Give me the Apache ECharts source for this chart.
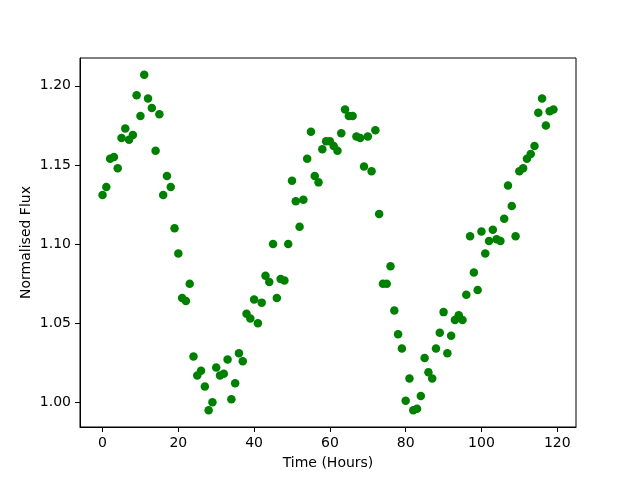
<!DOCTYPE html>
<html>
<head>
<meta charset="utf-8">
<script src="https://cdn.jsdelivr.net/npm/echarts@6/dist/echarts.min.js"></script>
<style>
  html, body { margin: 0; padding: 0; background: #fff; }
  #chart { width: 640px; height: 480px; }
</style>
</head>
<body>
<div id="chart"></div>
<script>
// observation time, one sample per hour
var hours = [
    0, 1, 2, 3, 4, 5, 6, 7, 8, 9, 10, 11, 12, 13, 14, 15, 16, 17, 18, 19,
    20, 21, 22, 23, 24, 25, 26, 27, 28, 29, 30, 31, 32, 33, 34, 35, 36, 37, 38, 39,
    40, 41, 42, 43, 44, 45, 46, 47, 48, 49, 50, 51, 52, 53, 54, 55, 56, 57, 58, 59,
    60, 61, 62, 63, 64, 65, 66, 67, 68, 69, 70, 71, 72, 73, 74, 75, 76, 77, 78, 79,
    80, 81, 82, 83, 84, 85, 86, 87, 88, 89, 90, 91, 92, 93, 94, 95, 96, 97, 98, 99,
    100, 101, 102, 103, 104, 105, 106, 107, 108, 109, 110, 111, 112, 113, 114, 115, 116, 117, 118, 119
];

// normalised flux
var flux = [
    1.131, 1.136, 1.154, 1.155, 1.148, 1.167, 1.173, 1.166, 1.169, 1.194,
    1.181, 1.207, 1.192, 1.186, 1.159, 1.182, 1.131, 1.143, 1.136, 1.110,
    1.094, 1.066, 1.064, 1.075, 1.029, 1.017, 1.020, 1.010, 0.995, 1.000,
    1.022, 1.017, 1.018, 1.027, 1.002, 1.012, 1.031, 1.026, 1.056, 1.053,
    1.065, 1.050, 1.063, 1.080, 1.076, 1.100, 1.066, 1.078, 1.077, 1.100,
    1.140, 1.127, 1.111, 1.128, 1.154, 1.171, 1.143, 1.139, 1.160, 1.165,
    1.165, 1.162, 1.159, 1.170, 1.185, 1.181, 1.181, 1.168, 1.167, 1.149,
    1.168, 1.146, 1.172, 1.119, 1.075, 1.075, 1.086, 1.058, 1.043, 1.034,
    1.001, 1.015, 0.995, 0.996, 1.004, 1.028, 1.019, 1.015, 1.034, 1.044,
    1.057, 1.031, 1.042, 1.052, 1.055, 1.052, 1.068, 1.105, 1.082, 1.071,
    1.108, 1.094, 1.102, 1.109, 1.103, 1.102, 1.116, 1.137, 1.124, 1.105,
    1.146, 1.148, 1.154, 1.157, 1.162, 1.183, 1.192, 1.175, 1.184, 1.185
];

var xTicks = [0, 20, 40, 60, 80, 100, 120];
var yTicks = [1.00, 1.05, 1.10, 1.15, 1.20];

var points = [];
for (var i = 0; i < hours.length; i++) {
    points.push([hours[i], flux[i]]);
}

var font = 'DejaVu Sans';
var chart = echarts.init(document.getElementById('chart'), null, {renderer: 'canvas'});

var option = {
    animation: false,
    backgroundColor: '#fff',
    grid: {
        left: 80, top: 58, width: 496, height: 369,
        show: true, borderColor: '#000', borderWidth: 1, backgroundColor: 'transparent'
    },
    xAxis: {
        type: 'value',
        min: -5.95,
        max: 124.95,
        name: 'Time (Hours)',
        nameLocation: 'middle',
        nameGap: 29,
        nameMoveOverlap: false,
        nameTextStyle: {fontFamily: font, fontSize: 14, color: '#000'},
        axisLine: {show: true, onZero: false, lineStyle: {color: '#000', width: 1}},
        axisTick: {show: true, customValues: xTicks, length: 5, lineStyle: {color: '#000', width: 1}},
        axisLabel: {customValues: xTicks, margin: 9, fontFamily: font, fontSize: 14, color: '#000'},
        splitLine: {show: false}
    },
    yAxis: {
        type: 'value',
        min: 0.9844,
        max: 1.2176,
        name: 'Normalised Flux',
        nameLocation: 'middle',
        nameGap: 47,
        nameMoveOverlap: false,
        nameRotate: 90,
        nameTextStyle: {fontFamily: font, fontSize: 14, color: '#000'},
        axisLine: {show: true, onZero: false, lineStyle: {color: '#000', width: 1}},
        axisTick: {show: true, customValues: yTicks, length: 5, lineStyle: {color: '#000', width: 1}},
        axisLabel: {
            customValues: yTicks, margin: 9, fontFamily: font, fontSize: 14, color: '#000',
            formatter: function (v) { return v.toFixed(2); }
        },
        splitLine: {show: false}
    },
    series: [{
        type: 'scatter',
        data: points,
        symbol: 'circle',
        symbolSize: 8.5,
        itemStyle: {color: '#008000', opacity: 1}
    }]
};
chart.setOption(option);
</script>
</body>
</html>
